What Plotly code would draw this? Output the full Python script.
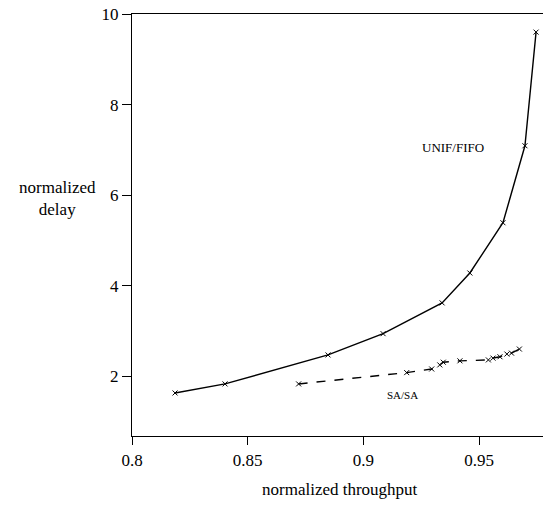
import plotly.graph_objects as go

unif_x = [0.8186, 0.8402, 0.8847, 0.9085, 0.934, 0.946, 0.9603, 0.9698, 0.9746]
unif_y = [1.63, 1.83, 2.47, 2.94, 3.62, 4.28, 5.39, 7.09, 9.60]

sa_x = [0.872, 0.9187, 0.9295, 0.933, 0.9345, 0.9417, 0.954, 0.956, 0.959, 0.962, 0.964, 0.9674]
sa_y = [1.83, 2.08, 2.16, 2.25, 2.31, 2.34, 2.36, 2.40, 2.43, 2.49, 2.51, 2.60]

x_ticks = [0.8, 0.85, 0.9, 0.95]
x_tick_labels = ["0.8", "0.85", "0.9", "0.95"]
y_ticks = [2, 4, 6, 8, 10]
y_tick_labels = ["2", "4", "6", "8", "10"]

FONT = "Liberation Serif"

fig = go.Figure()
fig.add_trace(go.Scatter(
    x=unif_x, y=unif_y, mode="lines+markers",
    line=dict(color="black", width=1.4),
    marker=dict(symbol="x-thin", size=5, line=dict(color="black", width=1)),
    showlegend=False))
fig.add_trace(go.Scatter(
    x=sa_x, y=sa_y, mode="lines+markers",
    line=dict(color="black", width=1.4, dash="dash"),
    marker=dict(symbol="x-thin", size=5, line=dict(color="black", width=1)),
    showlegend=False))

fig.add_annotation(x=0.9387, y=7.06, text="UNIF/FIFO", showarrow=False,
                   xanchor="center", yanchor="middle",
                   font=dict(family=FONT, size=13, color="black"))
fig.add_annotation(x=0.9167, y=1.59, text="SA/SA", showarrow=False,
                   xanchor="center", yanchor="middle",
                   font=dict(family=FONT, size=11, color="black"))

fig.add_annotation(xref="paper", yref="paper", x=-0.182, y=0.562,
                   text="normalized<br>delay", showarrow=False, align="center",
                   xanchor="center", yanchor="middle",
                   font=dict(family=FONT, size=17, color="black"))
fig.add_annotation(xref="paper", yref="paper", x=0.505, y=-0.126,
                   text="normalized throughput", showarrow=False,
                   xanchor="center", yanchor="middle",
                   font=dict(family=FONT, size=17, color="black"))

fig.update_layout(
    width=544, height=511,
    margin=dict(l=132, r=1, t=14, b=75),
    plot_bgcolor="white", paper_bgcolor="white",
    font=dict(family=FONT, size=17, color="black"),
    xaxis=dict(range=[0.8, 0.9776], tickvals=x_ticks, ticktext=x_tick_labels,
               showline=True, linecolor="black", linewidth=1.2, mirror=True,
               ticks="outside", ticklen=8, tickcolor="black",
               showgrid=False, zeroline=False),
    yaxis=dict(range=[0.68, 10], tickvals=y_ticks, ticktext=y_tick_labels,
               ticksuffix="\u2002",
               showline=True, linecolor="black", linewidth=1.2,
               ticks="outside", ticklen=9, tickcolor="black",
               showgrid=False, zeroline=False),
)

fig.write_html("out.html")
